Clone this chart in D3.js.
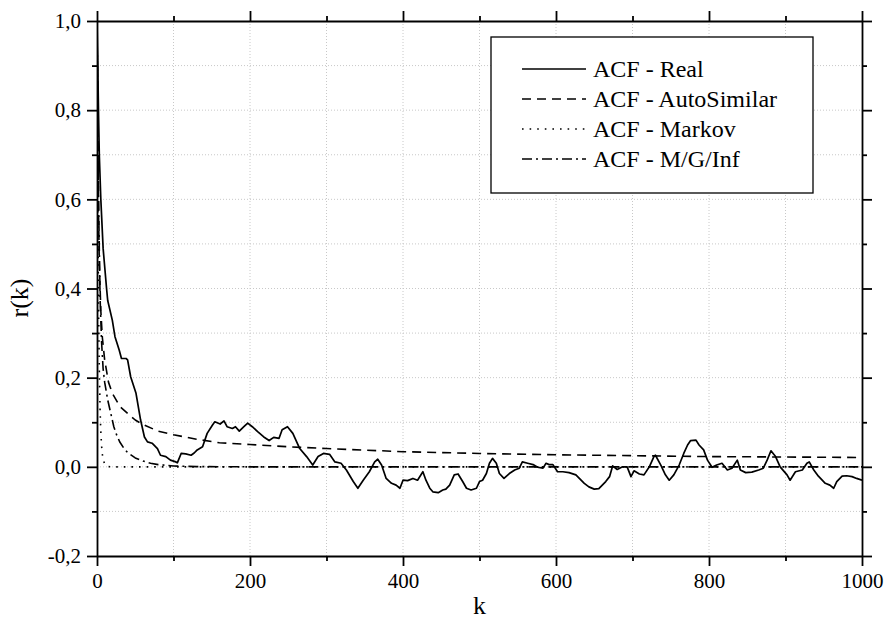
<!DOCTYPE html>
<html><head><meta charset="utf-8">
<script src="https://cdn.jsdelivr.net/npm/d3@7"></script>
<style>body{margin:0;background:#fff}svg{display:block}svg text{font-family:"Liberation Serif","Times New Roman",Times,serif !important}</style>
</head><body>
<script>
// ---- data ----
const realK = [0,1,2,3,5,8,12.5,14,20,23.5,29,32,38,40,44,51,57,62,66,72,79,83,90,96,103,105,110,116,123,127,131,138,144,151,154,161,166,170,177,181,186,192,197,203,210,218,225,231,238,242,249,256,265,274,282,289,296,304,311,319,326,335,341,348,356,363,367,372,378,385,391,396,400,406,413,419,426,430,435,439,446,452,456,461,467,472,478,483,489,496,500,504,509,513,517,522,526,532,539,546,552,556,563,570,576,583,587,591,596,602,609,617,626,637,643,650,656,665,670,674,680,687,693,698,702,709,715,722,728,730,737,743,748,754,761,767,772,776,783,787,793,798,804,810,817,824,830,837,841,848,856,865,871,876,881,887,893,902,906,913,922,928,931,937,943,952,958,963,967,974,980,987,993,1000];
const realR = [1.0,0.90,0.79,0.70,0.60,0.49,0.40,0.373,0.329,0.292,0.262,0.243,0.243,0.240,0.202,0.165,0.105,0.067,0.056,0.053,0.041,0.026,0.023,0.015,0.011,0.009,0.030,0.029,0.026,0.031,0.038,0.045,0.075,0.094,0.101,0.096,0.103,0.090,0.086,0.090,0.080,0.090,0.098,0.090,0.079,0.067,0.059,0.066,0.064,0.083,0.090,0.075,0.041,0.023,0.004,0.023,0.030,0.028,0.011,0.008,-0.007,-0.033,-0.048,-0.030,-0.011,0.011,0.017,0.004,-0.026,-0.037,-0.041,-0.048,-0.030,-0.031,-0.026,-0.030,-0.011,-0.030,-0.048,-0.056,-0.058,-0.052,-0.050,-0.041,-0.018,-0.016,-0.033,-0.048,-0.052,-0.048,-0.033,-0.030,-0.015,0.008,0.019,0.008,-0.015,-0.026,-0.015,-0.007,-0.003,0.011,0.008,0.005,-0.001,-0.003,0.008,0.005,0.005,-0.011,-0.011,-0.013,-0.018,-0.037,-0.045,-0.050,-0.049,-0.033,-0.022,0.002,-0.006,0.000,0.000,-0.022,-0.009,-0.016,-0.018,0.000,0.023,0.026,0.004,-0.018,-0.030,-0.018,0.004,0.030,0.049,0.059,0.060,0.049,0.038,0.015,-0.001,0.004,0.008,-0.007,-0.003,0.015,-0.007,-0.013,-0.012,-0.007,-0.003,0.015,0.036,0.023,0.000,-0.018,-0.030,-0.011,-0.007,0.008,0.011,-0.007,-0.021,-0.037,-0.041,-0.048,-0.033,-0.021,-0.020,-0.022,-0.026,-0.030];
const autoK = [0,1,2,3,5,7,10,15,20,30,40,50,60,80,100,130,160,200,250,300,400,500,600,700,800,900,1000];
const autoR = [1.0,0.80,0.57,0.46,0.35,0.29,0.24,0.19,0.165,0.135,0.12,0.105,0.095,0.080,0.072,0.062,0.054,0.050,0.045,0.041,0.034,0.030,0.027,0.025,0.023,0.022,0.021];
const markovK = [0,1,2,3,4,5,6,7,8,10,12,15,20,1000];
const markovR = [1.0,0.60,0.36,0.22,0.13,0.078,0.047,0.028,0.017,0.006,0.002,0.0005,0,0];
const mgK = [0,2,4,6,8,10,14,18,22,26,30,35,40,50,60,70,80,100,130,200,1000];
const mgR = [1.0,0.60,0.38,0.28,0.22,0.19,0.15,0.12,0.09,0.07,0.055,0.042,0.032,0.020,0.013,0.008,0.005,0.002,0.0005,0,0];
const xTicks = [0,200,400,600,800,1000];
const yTicks = [-0.2,0,0.2,0.4,0.6,0.8,1.0];
const seriesNames = ["ACF - Real","ACF - AutoSimilar","ACF - Markov","ACF - M/G/Inf"];

const W = 886, H = 633;
const x = d3.scaleLinear().domain([0,1000]).range([97,862]);
const y = d3.scaleLinear().domain([-0.2,1.0]).range([556,21]);
const fmt = d => d3.format(".1f")(d).replace(".", ",").replace("\u2212","-").replace("-0,0","0,0");
const font = "Liberation Serif";

const svg = d3.select("body").append("svg").attr("width",W).attr("height",H)
  .style("font-family", font);

// grid
const g = svg.append("g");
const xGrid = d3.range(100,1000,100);
const yGrid = d3.range(-1,10).map(i=>i/10);
g.selectAll(".vg").data(xGrid).join("line")
  .attr("x1",d=>x(d)).attr("x2",d=>x(d)).attr("y1",y(1)).attr("y2",y(-0.2))
  .attr("stroke","#c8c8c8").attr("stroke-width",1).attr("stroke-dasharray","1,2");
g.selectAll(".hg").data(yGrid).join("line")
  .attr("y1",d=>y(d)).attr("y2",d=>y(d)).attr("x1",x(0)).attr("x2",x(1000))
  .attr("stroke","#c8c8c8").attr("stroke-width",1).attr("stroke-dasharray","1,2");

svg.append("clipPath").attr("id","clip").append("rect")
  .attr("x",x(0)).attr("y",y(1)-1).attr("width",x(1000)-x(0)).attr("height",y(-0.2)-y(1)+1);

const styles = [
  {dash:null, w:1.7},
  {dash:"9,6", w:1.6},
  {dash:"1.6,6", w:1.6},
  {dash:"10,4,2,4", w:1.6}
];
const line = d3.line().x(d=>x(d[0])).y(d=>y(d[1]));
const series = [
  d3.zip(realK, realR), d3.zip(autoK, autoR), d3.zip(markovK, markovR), d3.zip(mgK, mgR)
];
const cg = svg.append("g").attr("clip-path","url(#clip)");
[3,2,1,0].forEach(i=>{
  cg.append("path").attr("d",line(series[i])).attr("fill","none")
    .attr("stroke","#000").attr("stroke-width",styles[i].w)
    .attr("stroke-dasharray",styles[i].dash).attr("stroke-linejoin","round");
});

// axes
function styleAxis(sel){
  sel.attr("font-family", font);
  sel.select(".domain").attr("stroke","#000").attr("stroke-width",1.8);
  sel.selectAll(".tick line").attr("stroke","#000").attr("stroke-width",1.8);
  sel.selectAll("text").style("font-family",font).attr("font-size",21).attr("fill","#000");
}
const xMinor = d3.range(100,1000,200);
const yMinor = [-0.1,0.1,0.3,0.5,0.7,0.9];
function minor(axisFn, scale, vals, transform){
  svg.append("g").attr("transform",transform)
    .call(axisFn(scale).tickValues(vals).tickSize(5).tickFormat("").tickSizeOuter(0))
    .call(s=>{s.select(".domain").remove(); s.selectAll(".tick line").attr("stroke","#000").attr("stroke-width",1.8);});
}
minor(d3.axisBottom, x, xMinor, `translate(0,${y(-0.2)})`);
minor(d3.axisTop, x, xMinor, `translate(0,${y(1)})`);
minor(d3.axisLeft, y, yMinor, `translate(${x(0)},0)`);
minor(d3.axisRight, y, yMinor, `translate(${x(1000)},0)`);

svg.append("g").attr("transform",`translate(0,${y(-0.2)})`)
  .call(d3.axisBottom(x).tickValues(xTicks).tickSize(10).tickSizeOuter(0).tickPadding(7).tickFormat(d3.format("d")))
  .call(styleAxis);
svg.append("g").attr("transform",`translate(0,${y(1)})`)
  .call(d3.axisTop(x).tickValues(xTicks).tickSize(10).tickSizeOuter(0).tickFormat(""))
  .call(styleAxis);
svg.append("g").attr("transform",`translate(${x(0)},0)`)
  .call(d3.axisLeft(y).tickValues(yTicks).tickSize(10).tickSizeOuter(0).tickPadding(6).tickFormat(fmt))
  .call(styleAxis);
svg.append("g").attr("transform",`translate(${x(1000)},0)`)
  .call(d3.axisRight(y).tickValues(yTicks).tickSize(10).tickSizeOuter(0).tickFormat(""))
  .call(styleAxis);

// axis titles
svg.append("text").attr("x",(x(0)+x(1000))/2).attr("y",614).attr("text-anchor","middle")
  .style("font-family",font).attr("font-size",26).text("k");
svg.append("text").attr("transform",`translate(28,298) rotate(-90)`)
  .attr("text-anchor","middle").style("font-family",font).attr("font-size",26).text("r(k)");

// legend
const lg = svg.append("g");
lg.append("rect").attr("x",491).attr("y",37).attr("width",322).attr("height",156)
  .attr("fill","#fff").attr("stroke","#000").attr("stroke-width",1.3);
seriesNames.forEach((nm,i)=>{
  const yy = 69 + i*30;
  lg.append("line").attr("x1",522).attr("x2",586).attr("y1",yy).attr("y2",yy)
    .attr("stroke","#000").attr("stroke-width",styles[i].w).attr("stroke-dasharray",styles[i].dash);
  lg.append("text").attr("x",593).attr("y",yy+8).style("font-family",font).attr("font-size",24).text(nm);
});
</script>
</body></html>
